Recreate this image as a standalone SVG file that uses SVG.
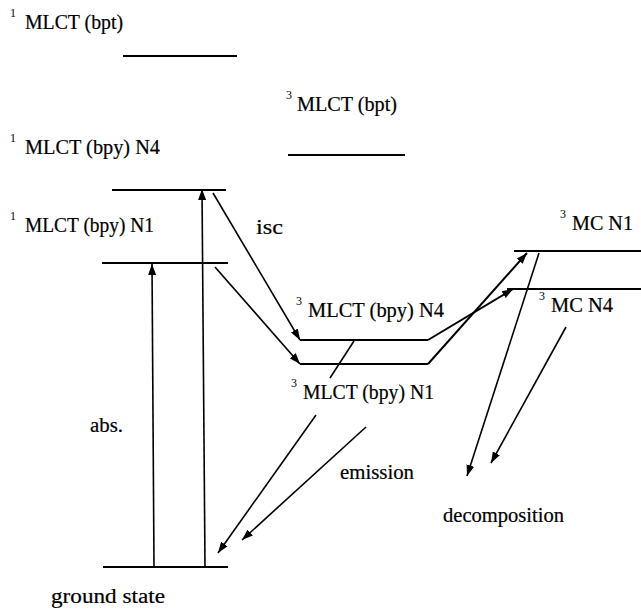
<svg xmlns="http://www.w3.org/2000/svg" width="641" height="611" viewBox="0 0 641 611">
<style>
.bg{fill:#fff}
.lvl{stroke:#000;stroke-width:2.2;fill:none;stroke-linecap:butt}
.ar{stroke:#000;stroke-width:1.6;fill:none}
.t{font-family:'Liberation Serif','Times New Roman','DejaVu Serif',serif;font-size:20px;fill:#000;stroke:#000;stroke-width:0.2}
.s{font-family:'Liberation Serif','Times New Roman','DejaVu Serif',serif;font-size:12px;fill:#000}
</style>
<defs>
<marker id="ah" markerUnits="userSpaceOnUse" markerWidth="11" markerHeight="8" refX="11" refY="4" orient="auto">
<path d="M0,0 L11,4 L0,8 z" fill="#000"/>
</marker>
</defs>
<rect class="bg" x="0" y="0" width="641" height="611"/>

<g id="s1-bpt">
<line class="lvl" x1="123" y1="56" x2="237" y2="56"/>
<text class="s" x="10" y="17">1</text>
<text class="t" x="25" y="29" textLength="98" lengthAdjust="spacingAndGlyphs">MLCT (bpt)</text>
</g>
<g id="t3-bpt">
<line class="lvl" x1="288" y1="155" x2="405" y2="155"/>
<text class="s" x="286" y="99">3</text>
<text class="t" x="297" y="111" textLength="100" lengthAdjust="spacingAndGlyphs">MLCT (bpt)</text>
</g>
<g id="s1-bpy-n4">
<line class="lvl" x1="112" y1="190" x2="226" y2="190"/>
<text class="s" x="10" y="142">1</text>
<text class="t" x="25" y="154" textLength="135" lengthAdjust="spacingAndGlyphs">MLCT (bpy) N4</text>
</g>
<g id="s1-bpy-n1">
<line class="lvl" x1="102" y1="263" x2="228" y2="263"/>
<text class="s" x="10" y="220">1</text>
<text class="t" x="25" y="232" textLength="129" lengthAdjust="spacingAndGlyphs">MLCT (bpy) N1</text>
</g>
<g id="t3-bpy-n4">
<line class="lvl" x1="300" y1="340" x2="428" y2="340"/>
<text class="s" x="296" y="305">3</text>
<text class="t" x="308" y="317" textLength="136" lengthAdjust="spacingAndGlyphs">MLCT (bpy) N4</text>
</g>
<g id="t3-bpy-n1">
<line class="lvl" x1="300" y1="364" x2="428" y2="364"/>
<text class="s" x="291" y="387">3</text>
<text class="t" x="303" y="399" textLength="131" lengthAdjust="spacingAndGlyphs">MLCT (bpy) N1</text>
</g>
<g id="mc-n1">
<line class="lvl" x1="514" y1="251" x2="641" y2="251"/>
<text class="s" x="560" y="218">3</text>
<text class="t" x="572" y="230" textLength="61" lengthAdjust="spacingAndGlyphs">MC N1</text>
</g>
<g id="mc-n4">
<line class="lvl" x1="507" y1="289" x2="641" y2="289"/>
<text class="s" x="539" y="300">3</text>
<text class="t" x="551" y="312" textLength="62" lengthAdjust="spacingAndGlyphs">MC N4</text>
</g>
<g id="ground">
<line class="lvl" x1="103" y1="567" x2="228" y2="567"/>
<text class="t" x="51" y="603" textLength="114" lengthAdjust="spacingAndGlyphs">ground state</text>
</g>

<g id="connectors">
<line class="ar" x1="154" y1="566" x2="152" y2="264" marker-end="url(#ah)"/>
<line class="ar" x1="205" y1="566" x2="202" y2="189" marker-end="url(#ah)"/>
<line class="ar" x1="213" y1="193" x2="300" y2="340" marker-end="url(#ah)"/>
<line class="ar" x1="215" y1="267" x2="300" y2="364" marker-end="url(#ah)"/>
<line class="ar" x1="428" y1="340" x2="513" y2="289" marker-end="url(#ah)" style="stroke-width:2"/>
<line class="ar" x1="428" y1="364" x2="527" y2="253" marker-end="url(#ah)" style="stroke-width:2"/>
<line class="ar" x1="354" y1="341" x2="330" y2="378"/>
<line class="ar" x1="316" y1="415" x2="218" y2="553" marker-end="url(#ah)"/>
<line class="ar" x1="366" y1="427" x2="242" y2="540" marker-end="url(#ah)"/>
<line class="ar" x1="539" y1="253" x2="467" y2="476" marker-end="url(#ah)"/>
<line class="ar" x1="566" y1="327" x2="491" y2="463" marker-end="url(#ah)"/>
</g>

<g id="labels">
<text class="t" x="256" y="234" textLength="27" lengthAdjust="spacingAndGlyphs">isc</text>
<text class="t" x="90" y="432" textLength="33" lengthAdjust="spacingAndGlyphs">abs.</text>
<text class="t" x="340" y="479" textLength="74" lengthAdjust="spacingAndGlyphs">emission</text>
<text class="t" x="443" y="522" textLength="121" lengthAdjust="spacingAndGlyphs">decomposition</text>
</g>
</svg>
